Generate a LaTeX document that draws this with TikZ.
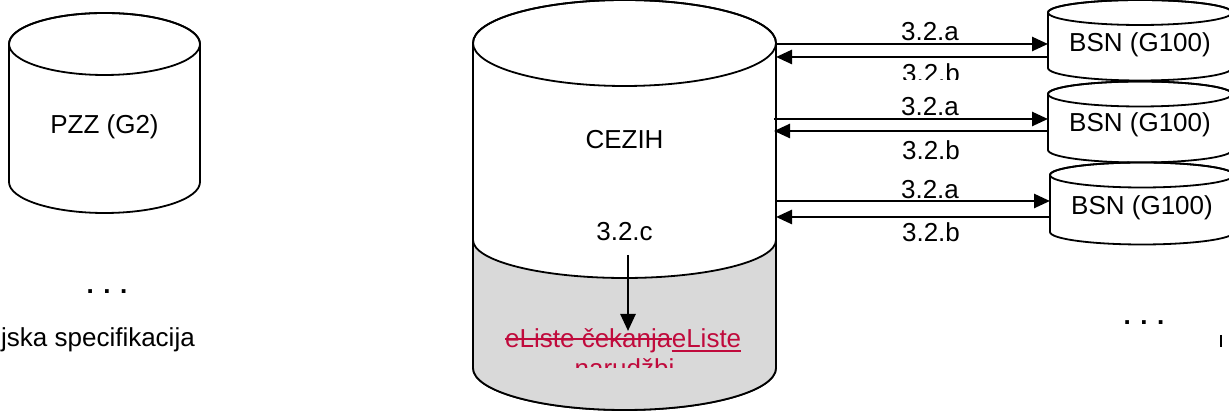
\documentclass[tikz,border=0pt]{standalone}
\usepackage{fontspec}
\setmainfont{Liberation Sans}
\usetikzlibrary{arrows.meta}
\definecolor{trackred}{RGB}{192,10,60}
\definecolor{bandgray}{RGB}{217,217,217}
% cylinder body: cx, rx, Ytop, Ybottom, ry
\newcommand{\mycyl}[5]{%
  \path[cyl] (#1-#2,#3) -- (#1-#2,#4) arc[start angle=180,end angle=360,x radius=#2,y radius=#5]
     -- (#1+#2,#3) arc[start angle=0,end angle=180,x radius=#2,y radius=#5] -- cycle;
  \draw[cylline] (#1,#3) ellipse[x radius=#2,y radius=#5];}
\begin{document}
\begin{tikzpicture}[x=1pt,y=1pt,
  cyl/.style={draw=black,line width=1.8pt,fill=white},
  cylline/.style={draw=black,line width=1.8pt},
  lbl/.style={font=\fontsize{26}{30}\selectfont,inner sep=0pt},
  dotlbl/.style={font=\fontsize{26}{30}\selectfont\bfseries,inner sep=0pt},
  redtxt/.style={lbl,text=trackred},
  redline/.style={draw=trackred,line width=1.8pt},
  flow/.style={line width=2.6pt,-{Triangle[length=16pt,width=14pt]}},
  downflow/.style={line width=2.6pt,-{Triangle[length=17pt,width=15pt]}}]
\useasboundingbox (0,0) rectangle (1229,411);
\begin{scope}
\clip (0,0) rectangle (1229,411);
% PZZ cylinder
\mycyl{104.5}{95.5}{367}{229}{31}
\node[lbl] (pzz) at (104.5,284) {PZZ (G2)};
\node[dotlbl,anchor=base] (dotsl) at (107,117) {. . .};
\node[lbl,anchor=east] (spec) at (195,71) {jska specifikacija};
% CEZIH cylinder
\path[cyl] (473,368) -- (473,43) arc[start angle=180,end angle=360,x radius=151.5,y radius=42]
   -- (776,368) arc[start angle=0,end angle=180,x radius=151.5,y radius=43] -- cycle;
\fill[bandgray] (473,171) -- (473,43) arc[start angle=180,end angle=360,x radius=151.5,y radius=42]
   -- (776,171) arc[start angle=0,end angle=-180,x radius=151.5,y radius=38] -- cycle;
\draw[cylline] (473,368) -- (473,43) arc[start angle=180,end angle=360,x radius=151.5,y radius=42]
   -- (776,368);
\draw[cylline] (776,171) arc[start angle=0,end angle=-180,x radius=151.5,y radius=38];
\draw[cylline] (624.5,368) ellipse[x radius=151.5,y radius=43];
\node[lbl] (cezih) at (624.5,271) {CEZIH};
\node[lbl] (c) at (624.5,179) {3.2.c};
\coordinate (cfrom) at (628,156);
\node[redtxt,anchor=base west] (el1a) at (505,63) {eListe čekanja};
\node[redtxt,anchor=base west] (el1b) at (el1a.base east) {eListe};
\draw[redline] ([yshift=9pt]el1a.base west) -- ([yshift=9pt]el1a.base east);
\draw[redline] ([yshift=-3pt]el1b.base west) -- ([yshift=-3pt]el1b.base east);
\coordinate (cto) at (628,80);
\draw[downflow] (cfrom) -- (cto);
\begin{scope}
\clip (400,43) rectangle (850,80);
\node[redtxt,anchor=base] (el2) at (624.5,33) {narudžbi};
\end{scope}
% BSN cylinders
\mycyl{1140}{92}{398.5}{343}{12.5}
\mycyl{1140}{92}{317}{261}{12.5}
\mycyl{1142}{92}{236}{179}{12.5}
\node[lbl] (bsn1) at (1140,366) {BSN (G100)};
\node[lbl] (bsn2) at (1140,286) {BSN (G100)};
\node[lbl] (bsn3) at (1142,203) {BSN (G100)};
% connectors
\coordinate (a1s) at (776,367); \coordinate (a1e) at (1048,367);
\coordinate (b1s) at (1048,354); \coordinate (b1e) at (776,354);
\coordinate (a2s) at (774,292); \coordinate (a2e) at (1048,292);
\coordinate (b2s) at (1048,280); \coordinate (b2e) at (774,280);
\coordinate (a3s) at (776,210); \coordinate (a3e) at (1050,210);
\coordinate (b3s) at (1050,194); \coordinate (b3e) at (776,194);
\draw[flow] (a1s) -- (a1e);
\draw[flow] (b1s) -- (b1e);
\draw[flow] (a2s) -- (a2e);
\draw[flow] (b2s) -- (b2e);
\draw[flow] (a3s) -- (a3e);
\draw[flow] (b3s) -- (b3e);
\node[lbl] (la1) at (930,379) {3.2.a};
\begin{scope}
\clip (850,331) rectangle (1000,360);
\node[lbl] (lb1) at (931,338) {3.2.b};
\end{scope}
\node[lbl] (la2) at (930,304) {3.2.a};
\node[lbl] (lb2) at (931,261) {3.2.b};
\node[lbl] (la3) at (930,221) {3.2.a};
\node[lbl] (lb3) at (931,179) {3.2.b};
\node[dotlbl,anchor=base] (dotsr) at (1144,86) {. . .};
\draw[line width=1.2pt] (1221,76) -- (1221,64);
\end{scope}
\end{tikzpicture}
\end{document}
